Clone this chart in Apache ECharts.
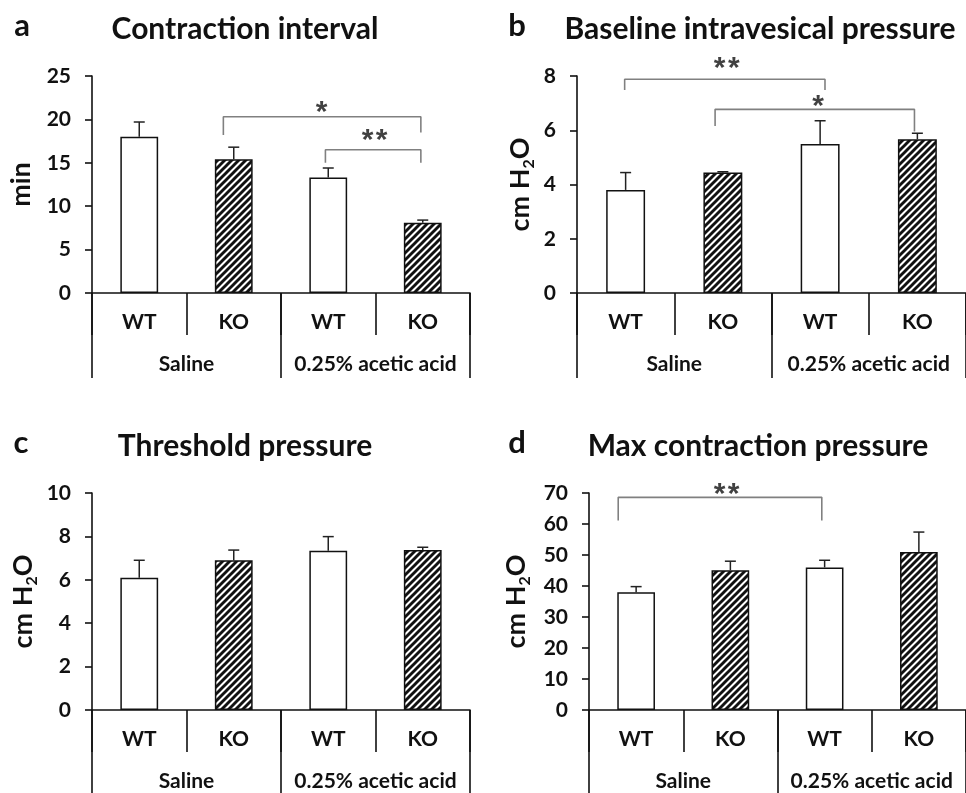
<!DOCTYPE html>
<html><head><meta charset="utf-8">
<script src="https://cdn.jsdelivr.net/npm/echarts@6/dist/echarts.min.js"></script>
<style>html,body{margin:0;padding:0;background:#fff}#c{width:966px;height:793px}</style>
</head><body><div id="c"></div>
<script>
// ---------- data ----------
const categories = ['WT', 'KO', 'WT', 'KO'];
const groups = ['Saline', '0.25% acetic acid'];
const panelTitles = ['Contraction interval', 'Baseline intravesical pressure', 'Threshold pressure', 'Max contraction pressure'];
const panelLetters = ['a', 'b', 'c', 'd'];
const yNames = ['min', 'cm H2O', 'cm H2O', 'cm H2O'];

const intervalMean  = [18.0, 15.4, 13.3, 8.1];
const intervalSem   = [1.7, 1.4, 1.1, 0.3];
const baselineMean  = [3.8, 4.44, 5.49, 5.67];
const baselineSem   = [0.64, 0.03, 0.86, 0.22];
const thresholdMean = [6.1, 6.9, 7.34, 7.37];
const thresholdSem  = [0.8, 0.47, 0.65, 0.13];
const maxMean       = [38.0, 45.1, 46.0, 51.0];
const maxSem        = [1.8, 2.9, 2.3, 6.4];

const yMax  = [25, 8, 10, 70];
const yStep = [5, 2, 2, 10];

// significance brackets (data units): [xLeft, xRight, yTop, yLeftEnd, yRightEnd, starX, starY, label]
const sigA = [[1.39, 3.48, 20.3, 18.2, 18.5, 2.43, 21.6, '*'], [2.47, 3.48, 16.5, 15.0, 15.0, 2.99, 18.3, '**']];
const sigB = [[0.49, 2.55, 7.88, 7.48, 7.48, 1.54, 8.53, '**'], [1.42, 3.47, 6.77, 6.16, 5.95, 2.48, 7.12, '*']];
const sigC = [];
const sigD = [[0.31, 2.47, 68.6, 61.1, 61.1, 1.46, 71.6, '**']];

// ---------- layout / style ----------
const means = [intervalMean, baselineMean, thresholdMean, maxMean];
const sems = [intervalSem, baselineSem, thresholdSem, maxSem];
const sigs = [sigA, sigB, sigC, sigD];
const gridBoxes = [
  {left: 92, top: 76, width: 378, height: 217},
  {left: 577, top: 76, width: 392, height: 217},
  {left: 92, top: 493, width: 378, height: 217},
  {left: 589, top: 493, width: 380, height: 217}
];
const titlePos = [[245, 29, 22, 26], [760, 29, 517, 26], [245, 446, 21, 443], [758, 446, 517, 443]];
const nameGaps = [54, 40, 52, 56];
const FONT = 'Lato, "Open Sans", sans-serif';
const STARFONT = '"Liberation Sans", Arial, sans-serif';
const INK = '#111';

function hatchCanvas() {
  const s = 7, c = document.createElement('canvas');
  c.width = s; c.height = s;
  const g = c.getContext('2d');
  g.fillStyle = '#fff'; g.fillRect(0, 0, s, s);
  g.strokeStyle = '#111'; g.lineWidth = 2.9;
  g.beginPath();
  g.moveTo(-2, 2); g.lineTo(2, -2);
  g.moveTo(-1, s + 1); g.lineTo(s + 1, -1);
  g.moveTo(s - 2, s + 2); g.lineTo(s + 2, s - 2);
  g.stroke();
  return c;
}
const hatch = {image: hatchCanvas(), repeat: 'repeat'};

const option = {
  animation: false,
  backgroundColor: '#fff',
  grid: [], xAxis: [], yAxis: [], series: [], graphic: []
};

for (let i = 0; i < 4; i++) {
  option.grid.push(Object.assign({containLabel: false}, gridBoxes[i]));
  option.xAxis.push({
    type: 'category', gridIndex: i, data: categories, position: 'bottom',
    axisLine: {show: true, lineStyle: {color: INK, width: 1.6}},
    axisTick: {show: true, length: 42, inside: false, alignWithLabel: false, interval: 0, lineStyle: {color: INK, width: 1.6}},
    axisLabel: {interval: 0, margin: 19, fontSize: 21, fontWeight: 'bold', fontFamily: FONT, color: INK},
    splitLine: {show: false}
  });
  option.xAxis.push({
    type: 'category', gridIndex: i, data: groups, position: 'bottom',
    axisLine: {show: false},
    axisTick: {show: true, length: 85, inside: false, alignWithLabel: false, interval: 0, lineStyle: {color: INK, width: 1.6}},
    axisLabel: {interval: 0, margin: 61, fontSize: 21, fontWeight: 'bold', fontFamily: FONT, color: INK},
    splitLine: {show: false}
  });
  option.xAxis.push({type: 'value', gridIndex: i, min: 0, max: 4, show: false});
  const isH2O = yNames[i] !== 'min';
  option.yAxis.push({
    type: 'value', gridIndex: i, min: 0, max: yMax[i], interval: yStep[i],
    name: isH2O ? '{n|cm H}{s|2}{n|O}' : '{n|min}',
    nameLocation: 'middle', nameRotate: 90, nameGap: nameGaps[i],
    nameTextStyle: {rich: {
      n: {fontSize: 27, fontWeight: 'bold', fontFamily: FONT, color: INK, lineHeight: 30, verticalAlign: 'top'},
      s: {fontSize: 16, fontWeight: 'bold', fontFamily: FONT, color: INK, lineHeight: 18, verticalAlign: 'bottom'}
    }},
    axisLine: {show: true, lineStyle: {color: INK, width: 1.6}},
    axisTick: {show: true, length: 7, inside: false, lineStyle: {color: INK, width: 1.6}},
    axisLabel: {margin: 21, fontSize: 21, fontWeight: 'bold', fontFamily: FONT, color: INK},
    splitLine: {show: false}
  });

  option.series.push({
    type: 'bar', xAxisIndex: 3 * i, yAxisIndex: i, barWidth: '40%', z: 3,
    data: means[i].map((v, k) => ({value: v, itemStyle: {color: k % 2 ? hatch : '#fff', borderColor: INK, borderWidth: 1.5}}))
  });
  option.series.push({
    type: 'custom', xAxisIndex: 3 * i, yAxisIndex: i, z: 2,
    data: means[i].map((v, k) => [k, v, v + sems[i][k]]),
    renderItem: function (params, api) {
      const b = api.coord([api.value(0), api.value(1)]);
      const t = api.coord([api.value(0), api.value(2)]);
      const hw = 5.5;
      return {type: 'group', children: [
        {type: 'line', shape: {x1: b[0], y1: b[1], x2: t[0], y2: t[1]}, style: {stroke: '#222', lineWidth: 1.5}},
        {type: 'line', shape: {x1: t[0] - hw, y1: t[1], x2: t[0] + hw, y2: t[1]}, style: {stroke: '#222', lineWidth: 1.5}}
      ]};
    }
  });
  sigs[i].forEach(s => {
    option.series.push({
      type: 'line', xAxisIndex: 3 * i + 2, yAxisIndex: i, clip: false, showSymbol: false, symbol: 'none', z: 4,
      lineStyle: {color: '#808080', width: 1.6},
      data: [[s[0], s[3]], [s[0], s[2]], [s[1], s[2]], [s[1], s[4]]]
    });
    option.series.push({
      type: 'scatter', xAxisIndex: 3 * i + 2, yAxisIndex: i, clip: false, symbolSize: 1, z: 5,
      itemStyle: {color: 'transparent'},
      label: {show: true, position: 'inside', formatter: s[7].split('').join('\u200a'), fontSize: 30, fontWeight: 'bold', fontFamily: STARFONT, color: INK, offset: [0, 7]},
      data: [[s[5], s[6]]]
    });
  });

  const tp = titlePos[i];
  option.graphic.push({type: 'text', x: tp[0], y: tp[1], style: {text: panelTitles[i], fontSize: 30, fontWeight: 'bold', fontFamily: FONT, fill: INK, align: 'center', verticalAlign: 'middle', textAlign: 'center', textVerticalAlign: 'middle'}});
  option.graphic.push({type: 'text', x: tp[2], y: tp[3], style: {text: panelLetters[i], fontSize: 31, fontWeight: 'bold', fontFamily: FONT, fill: INK, align: 'center', verticalAlign: 'middle', textAlign: 'center', textVerticalAlign: 'middle'}});
}

const chart = echarts.init(document.getElementById('c'), null, {renderer: 'canvas'});
chart.setOption(option);
</script></body></html>
